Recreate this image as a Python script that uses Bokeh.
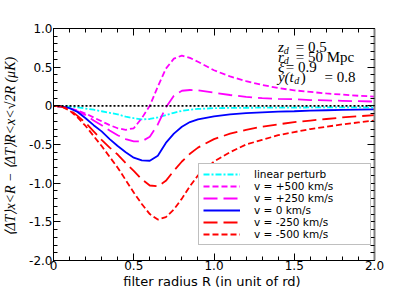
from bokeh.plotting import figure
from bokeh.models import (LinearAxis, SingleIntervalTicker, Span, Legend,
                          LegendItem, ColumnDataSource, CustomJSTickFormatter)
from bokeh.core.properties import value
from bokeh.embed import file_html
from bokeh.resources import INLINE

# ---------------- data ----------------
R = [0.0, 0.05, 0.1, 0.15, 0.2, 0.25, 0.3, 0.35, 0.4, 0.45, 0.5, 0.55, 0.6,
     0.65, 0.7, 0.75, 0.8, 0.85, 0.9, 1.0, 1.1, 1.2, 1.3, 1.4, 1.5, 1.6,
     1.7, 1.8, 1.9, 2.0]

linear_perturb = [0.0, -0.002, -0.01, -0.02, -0.035, -0.05, -0.07, -0.09,
                  -0.11, -0.14, -0.16, -0.175, -0.17, -0.15, -0.12, -0.09,
                  -0.065, -0.05, -0.04, -0.03, -0.027, -0.025, -0.024,
                  -0.023, -0.022, -0.021, -0.021, -0.02, -0.02, -0.02]

v_p500 = [0.0, -0.01, -0.03, -0.06, -0.10, -0.15, -0.20, -0.25, -0.29, -0.31,
          -0.29, -0.16, 0.0, 0.25, 0.48, 0.61, 0.65, 0.62, 0.57, 0.46, 0.38,
          0.32, 0.27, 0.23, 0.20, 0.18, 0.16, 0.145, 0.13, 0.12]

v_p250 = [0.0, -0.01, -0.03, -0.07, -0.12, -0.19, -0.25, -0.32, -0.38, -0.43,
          -0.46, -0.46, -0.40, -0.24, -0.02, 0.13, 0.195, 0.205, 0.20, 0.17,
          0.14, 0.115, 0.10, 0.09, 0.085, 0.075, 0.07, 0.065, 0.06, 0.055]

v_0 = [0.0, -0.01, -0.03, -0.08, -0.16, -0.25, -0.33, -0.43, -0.52, -0.60,
       -0.67, -0.705, -0.71, -0.645, -0.48, -0.36, -0.27, -0.21, -0.175,
       -0.135, -0.11, -0.095, -0.085, -0.075, -0.07, -0.062, -0.057, -0.052,
       -0.048, -0.045]

v_m250 = [0.0, -0.01, -0.05, -0.13, -0.22, -0.33, -0.44, -0.54, -0.63, -0.74,
          -0.84, -0.95, -1.03, -1.04, -0.97, -0.84, -0.72, -0.62, -0.54,
          -0.43, -0.36, -0.31, -0.27, -0.24, -0.21, -0.19, -0.17, -0.15,
          -0.135, -0.12]

v_m500 = [0.0, -0.01, -0.06, -0.15, -0.26, -0.39, -0.52, -0.66, -0.80, -0.96,
          -1.12, -1.27, -1.40, -1.47, -1.44, -1.34, -1.20, -1.04, -0.90,
          -0.72, -0.60, -0.50, -0.44, -0.38, -0.34, -0.30, -0.27, -0.24,
          -0.215, -0.19]

series_labels = ["linear perturb", "v = +500 km/s", "v = +250 km/s",
                 "v = 0 km/s", "v = -250 km/s", "v = -500 km/s"]

x_tick_values = [0.0, 0.5, 1.0, 1.5, 2.0]
x_tick_labels = ["0", "0.5", "1.0", "1.5", "2.0"]
y_tick_values = [1.0, 0.5, 0.0, -0.5, -1.0, -1.5, -2.0]
y_tick_labels = ["1.0", "0.5", "0", "-0.5", "-1.0", "-1.5", "-2.0"]

# ---------------- figure ----------------
p = figure(width=415, height=291, x_range=(0, 2), y_range=(-2, 1),
           output_backend="svg", toolbar_location=None,
           min_border_left=52, min_border_right=41, min_border_top=28,
           min_border_bottom=29)
p.grid.visible = False
p.outline_line_color = "black"
p.outline_line_width = 1
p.background_fill_color = "white"
p.border_fill_color = "white"


def style_axis(ax, labels_on):
    ax.ticker = SingleIntervalTicker(interval=0.5, num_minor_ticks=5)
    ax.major_tick_in = 7
    ax.major_tick_out = 0
    ax.minor_tick_in = 4
    ax.minor_tick_out = 0
    ax.axis_line_color = "black"
    ax.major_tick_line_color = "black"
    ax.minor_tick_line_color = "black"
    ax.major_label_text_font = "DejaVu Sans"
    ax.major_label_text_color = "black"
    ax.major_label_text_font_size = "12px"
    ax.axis_label_text_color = "black"
    if not labels_on:
        ax.formatter = CustomJSTickFormatter(code="return ''")
        ax.major_label_standoff = 0


xa = p.xaxis[0]
ya = p.yaxis[0]
style_axis(xa, True)
style_axis(ya, True)
xa.major_label_overrides = dict(zip(x_tick_values, x_tick_labels))
ya.major_label_overrides = dict(zip(y_tick_values, y_tick_labels))
xa.major_label_standoff = 0
ya.major_label_standoff = 1

xa.axis_label = "filter radius R  (in unit of rd)"
xa.axis_label_text_font = "DejaVu Sans"
xa.axis_label_text_font_style = "normal"
xa.axis_label_text_font_size = "13px"
xa.axis_label_standoff = 1

ya.axis_label = "⟨ΔT⟩x<R − ⟨ΔT⟩R<x<√2R  (μK)"
ya.axis_label_text_font = "Liberation Serif"
ya.axis_label_text_font_style = "italic"
ya.axis_label_text_font_size = "14px"
ya.axis_label_standoff = 8

top = LinearAxis()
right = LinearAxis()
style_axis(top, False)
style_axis(right, False)
right.axis_line_color = "#808080"
right.axis_line_width = 2
p.add_layout(top, "above")
p.add_layout(right, "right")

# zero reference line
p.add_layout(Span(location=0, dimension="width", line_color="black",
                  line_dash="2 2", line_width=1.6))

src = ColumnDataSource(dict(R=R, lin=linear_perturb, p500=v_p500,
                            p250=v_p250, v0=v_0, m250=v_m250, m500=v_m500))

styles = [("lin", "#00FFFF", "6 2 2 2"),
          ("p500", "#FF00FF", "6 3"),
          ("p250", "#FF00FF", "14 6"),
          ("v0", "#0000FF", "solid"),
          ("m250", "#FF0000", "14 6"),
          ("m500", "#FF0000", "6 3")]

renderers = []
for col, color, dash in styles:
    r = p.line("R", col, source=src, line_color=color, line_dash=dash,
               line_width=1.8)
    renderers.append(r)

items = [LegendItem(label=lab, renderers=[r])
         for lab, r in zip(series_labels, renderers)]
legend = Legend(items=items, location=(145, 15))
legend.label_text_font = "DejaVu Sans"
legend.label_text_font_size = "10.5px"
legend.label_text_color = "black"
legend.label_height = 8
legend.label_width = 112
legend.glyph_height = 8
legend.glyph_width = 37
legend.label_standoff = 14
legend.spacing = 0
legend.padding = 4
legend.margin = 0
legend.border_line_color = "#808080"
legend.border_line_width = 1.5
legend.background_fill_alpha = 1.0
p.add_layout(legend)

# parameter annotations (serif, LaTeX-like)
serif = value("Liberation Serif")
ann_main = [("z", 1.398, 0.756), ("r", 1.398, 0.628),
            ("ξ", 1.398, 0.50), ("y(t", 1.398, 0.372)]
ann_sub = [("d", 1.435, 0.716), ("d", 1.435, 0.588), ("d", 1.50, 0.332)]
ann_val = [("=  0.5", 1.509, 0.756), ("=  50  Mpc", 1.509, 0.628),
           ("=  0.9", 1.447, 0.50), (")", 1.54, 0.372),
           ("=  0.8", 1.689, 0.372)]

p.text(x=[a[1] for a in ann_main], y=[a[2] for a in ann_main],
       text=[a[0] for a in ann_main], text_font=serif,
       text_font_style="italic", text_font_size="15px",
       text_baseline="alphabetic", text_align="left", text_color="black")
p.text(x=[a[1] for a in ann_sub], y=[a[2] for a in ann_sub],
       text=[a[0] for a in ann_sub], text_font=serif,
       text_font_style="italic", text_font_size="10px",
       text_baseline="alphabetic", text_align="left", text_color="black")
p.text(x=[a[1] for a in ann_val], y=[a[2] for a in ann_val],
       text=[a[0] for a in ann_val], text_font=serif,
       text_font_size="15px", text_baseline="alphabetic",
       text_align="left", text_color="black")

open("out.html", "w").write(file_html(p, INLINE))
